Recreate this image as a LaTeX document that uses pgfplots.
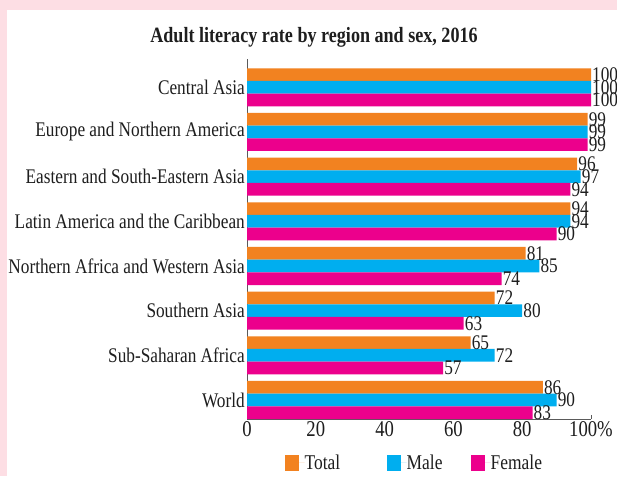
\documentclass[border=0pt]{standalone}
\usepackage{fontspec}
\setmainfont[FakeStretch=0.83]{Liberation Serif}
\usepackage{pgfplots}
\pgfplotsset{compat=1.18}
\definecolor{cTotal}{RGB}{242,130,32}
\definecolor{cMale}{RGB}{0,174,239}
\definecolor{cFemale}{RGB}{236,0,140}
\definecolor{framepink}{RGB}{253,222,228}
\definecolor{axgray}{RGB}{90,90,90}
\definecolor{txt}{RGB}{30,30,30}
\begin{document}
\begin{tikzpicture}
\fill[framepink] (0pt,0pt) rectangle (617pt,476pt);
\fill[white] (7pt,0pt) rectangle (617pt,466pt);
\node[anchor=base, font=\fontsize{21.8}{24}\selectfont\bfseries, text=txt, inner sep=0pt] at (314pt,433.7pt) {Adult literacy rate by region and sex, 2016};
\begin{axis}[
  at={(247pt,57pt)}, anchor=south west,
  scale only axis, width=344pt, height=360pt,
  xmin=0, xmax=100, ymin=-0.4253, ymax=7.634,
  enlargelimits=false,
  axis x line*=bottom, axis y line*=left,
  axis line style={axgray, line width=0.8pt},
  /pgf/number format/assume math mode=true,
  xtick={0,20,40,60,80,100},
  xticklabels={0,20,40,60,80,100\%},
  x tick label style={font=\fontsize{22.5}{24}\selectfont, text=txt, inner ysep=2pt},
  xtick align=inside, major tick length=4pt,
  x tick style={axgray, line width=0.8pt},
  ytick={0,1,2,3,4,5,6,7},
  yticklabels={World, Sub-Saharan Africa, Southern Asia, Northern Africa and Western Asia, Latin America and the Caribbean, Eastern and South-Eastern Asia, Europe and Northern America, Central Asia},
  y tick style={draw=none},
  y tick label style={font=\fontsize{20.8}{22}\selectfont, text=txt, inner xsep=1pt, xshift=3pt},
  xbar, bar width=12.67pt,
  nodes near coords,
  nodes near coords align={horizontal},
  every node near coord/.append style={font=\fontsize{20.8}{22}\selectfont, text=txt, anchor=west, inner xsep=1pt, inner ysep=0pt},
  legend columns=3,
  legend style={draw=none, fill=none, at={(0.110,-0.122)}, anchor=west, font=\fontsize{21}{22}\selectfont, text=txt, column sep=0pt, inner sep=0pt, nodes={inner sep=0pt}},
  legend image code/.code={\fill[#1] (0pt,-8pt) rectangle (14.3pt,8pt); \path (0pt,0pt) -- (19.7pt,0pt);},
]
\addplot[fill=cTotal, draw=none, bar shift=12.67pt] coordinates {(86,0) (65,1) (72,2) (81,3) (94,4) (96,5) (99,6) (100,7)};
\addplot[fill=cMale, draw=none, bar shift=0pt] coordinates {(90,0) (72,1) (80,2) (85,3) (94,4) (97,5) (99,6) (100,7)};
\addplot[fill=cFemale, draw=none, bar shift=-12.67pt] coordinates {(83,0) (57,1) (63,2) (74,3) (90,4) (94,5) (99,6) (100,7)};
\addlegendentry{\makebox[82.3pt][l]{Total}}
\addlegendentry{\makebox[64.3pt][l]{Male}}
\addlegendentry{Female}
\end{axis}
\pgfresetboundingbox
\path[use as bounding box] (0pt,0pt) rectangle (617pt,476pt);
\end{tikzpicture}
\end{document}
